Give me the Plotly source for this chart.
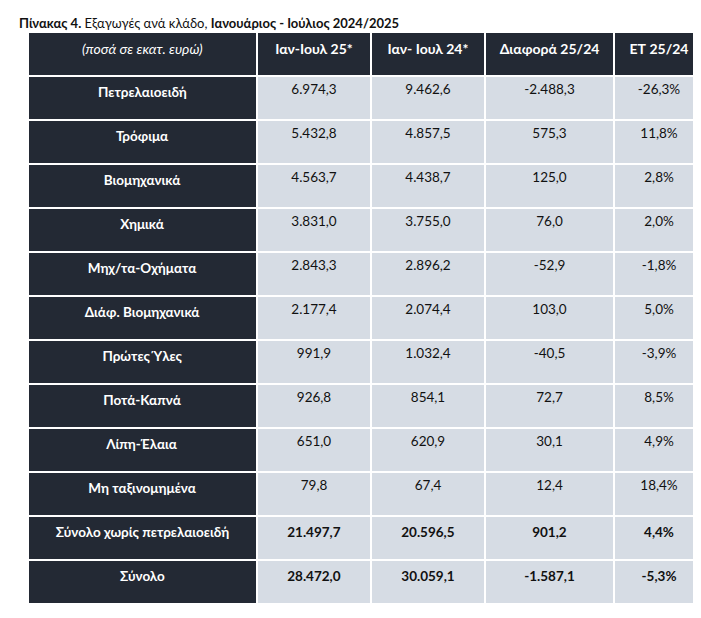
import plotly.graph_objects as go

categories = ["Πετρελαιοειδή", "Τρόφιμα", "Βιομηχανικά", "Χημικά", "Μηχ/τα-Οχήματα",
              "Διάφ. Βιομηχανικά", "Πρώτες Ύλες", "Ποτά-Καπνά", "Λίπη-Έλαια",
              "Μη ταξινομημένα", "Σύνολο χωρίς πετρελαιοειδή", "Σύνολο"]
jan_jul_25 = ["6.974,3", "5.432,8", "4.563,7", "3.831,0", "2.843,3", "2.177,4",
              "991,9", "926,8", "651,0", "79,8", "21.497,7", "28.472,0"]
jan_jul_24 = ["9.462,6", "4.857,5", "4.438,7", "3.755,0", "2.896,2", "2.074,4",
              "1.032,4", "854,1", "620,9", "67,4", "20.596,5", "30.059,1"]
diff = ["-2.488,3", "575,3", "125,0", "76,0", "-52,9", "103,0",
        "-40,5", "72,7", "30,1", "12,4", "901,2", "-1.587,1"]
pct = ["-26,3%", "11,8%", "2,8%", "2,0%", "-1,8%", "5,0%",
       "-3,9%", "8,5%", "4,9%", "18,4%", "4,4%", "-5,3%"]
headers = ["<i>(ποσά σε εκατ. ευρώ)</i>", "<b>Ιαν-Ιουλ 25*</b>", "<b>Ιαν- Ιουλ 24*</b>",
           "<b>Διαφορά 25/24</b>", "<b>ΕΤ 25/24</b>"]

DARK = "#232934"
LIGHT = "#d6dce4"
n = len(categories)

def bold_totals(col):
    return [f"<b>{v}</b>" if i >= n - 2 else v for i, v in enumerate(col)]

cells = [[f"<b>{c}</b>" for c in categories]] + [bold_totals(c) for c in (jan_jul_25, jan_jul_24, diff, pct)]

W, H = 701, 618
fig = go.Figure(go.Table(
    columnwidth=[229, 114, 114, 129, 90],
    domain=dict(x=[20 / W, 696 / W], y=[0, 1 - 24 / H]),
    header=dict(values=headers, fill_color=DARK, line=dict(color="white", width=2),
                font=dict(color="white", size=14, family="Lato"), height=44, align="center"),
    cells=dict(values=cells,
               fill_color=[[DARK] * n] + [[LIGHT] * n] * 4,
               line=dict(color="white", width=2),
               font=dict(color=[["white"] * n] + [["#111111"] * n] * 4, size=13.5, family="Lato"),
               height=44, align="center"),
))
fig.add_annotation(text="<b>Πίνακας 4.</b> Εξαγωγές ανά κλάδο, <b>Ιανουάριος - Ιούλιος 2024/2025</b>",
                   x=9 / W, y=1 - 5 / H, xref="paper", yref="paper", xanchor="left", yanchor="top",
                   showarrow=False, font=dict(size=13, family="Lato", color="#111111"))
fig.update_layout(width=W, height=H, margin=dict(l=0, r=0, t=0, b=0),
                  paper_bgcolor="white", plot_bgcolor="white")
fig.write_html("out.html")
